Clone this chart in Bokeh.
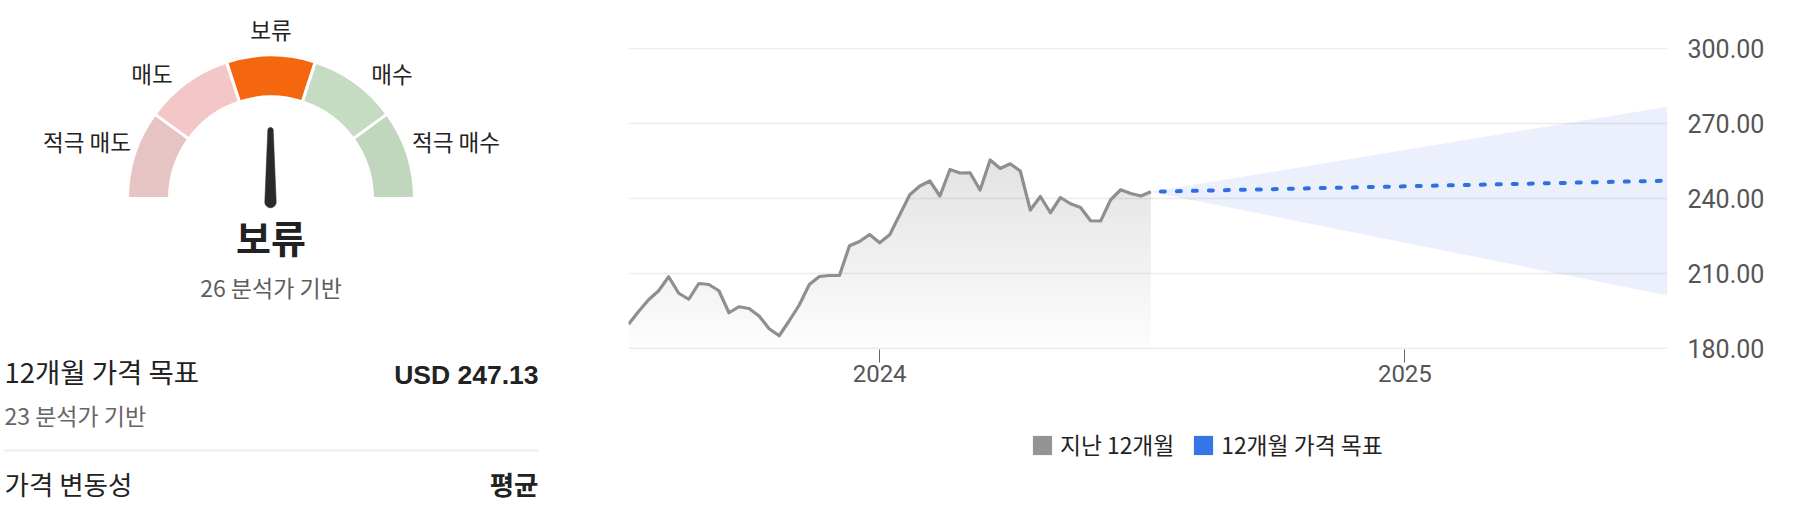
import numpy as np
import pandas as pd
from bokeh.plotting import figure
from bokeh.layouts import row, column
from bokeh.models import (Range1d, FixedTicker, NumeralTickFormatter, DatetimeTickFormatter,
                          Legend, LegendItem, ColumnDataSource)
from bokeh.core.properties import value
from bokeh.embed import file_html
from bokeh.resources import INLINE

# ---------------- data ----------------
RATING_CATEGORIES = ["적극 매도", "매도", "보류", "매수", "적극 매수"]
RATING_COLORS = ["#E7C4C4", "#F3C7C7", "#F5670F", "#C6DCC2", "#C0D6BD"]
CONSENSUS = "보류"
CONSENSUS_ANALYSTS = 26
TARGET_ANALYSTS = 23
TARGET_PRICE = 247.13
VOLATILITY = "평균"

HIST_START = "2023-07-10"
HIST_PRICES = [189.7, 194.8, 199.5, 203.1, 208.7, 202.1, 199.7, 206.0, 205.6, 203.1,
               194.3, 196.7, 196.0, 193.0, 187.9, 185.1, 191.1, 197.4, 205.6, 208.8,
               209.2, 209.2, 221.1, 222.8, 225.6, 222.3, 225.5, 233.5, 241.5, 245.0,
               247.0, 241.0, 251.6, 250.2, 250.3, 243.4, 255.4, 252.0, 253.9, 251.0,
               235.4, 240.8, 234.3, 240.4, 237.9, 236.4, 231.1, 231.0, 239.5, 243.5,
               242.0, 241.0, 242.7]
TARGET_DATE = "2025-07-03"
TARGET_HIGH = 276.7
TARGET_LOW = 201.2
Y_TICKS = [180, 210, 240, 270, 300]
X_TICK_YEARS = [2024, 2025]
LEGEND_LABELS = ["지난 12개월", "12개월 가격 목표"]
LEGEND_COLORS = ["#949494", "#3475E8"]

KR = "Noto Sans CJK KR"
PAGE_W, PAGE_H = 1808, 528

# ---------------- left panel (gauge + summary) ----------------
LW = 560
L = figure(width=LW, height=PAGE_H, x_range=Range1d(0, LW), y_range=Range1d(0, PAGE_H),
           x_axis_location=None, y_axis_location=None, output_backend="svg",
           toolbar_location=None, min_border=0, frame_align=False)
L.grid.visible = False
L.outline_line_color = None


def PY(y):
    return PAGE_H - y


def TY(y):  # text centre (small correction for CJK glyph placement)
    return PAGE_H - (y - 2.5)


CX, CY = 270.5, PY(198)
R_OUT, R_IN = 142, 103
n = len(RATING_CATEGORIES)
seg = np.pi / n
starts = [np.pi - (i + 1) * seg for i in range(n)]
ends = [np.pi - i * seg for i in range(n)]
gsrc = ColumnDataSource(dict(start=starts, end=ends, color=RATING_COLORS))

# faint halo ring
L.annular_wedge(x=CX, y=CY, inner_radius=R_IN - 3, outer_radius=R_OUT + 3,
                start_angle="start", end_angle="end", fill_color="color",
                fill_alpha=0.22, line_color=None, source=gsrc)
# main segments
L.annular_wedge(x=CX, y=CY, inner_radius=R_IN - 1.5, outer_radius=R_OUT + 1.5,
                start_angle="start", end_angle="end", fill_color="color",
                line_color="white", line_width=3, source=gsrc)

# needle
idx = RATING_CATEGORIES.index(CONSENSUS)
theta = np.pi - (idx + 0.5) * seg
px, py = CX - 0.5, CY - 3.6
rb, rt, ln = 5.7, 2.7, 72.0
tx, ty = px + ln * np.cos(theta), py + ln * np.sin(theta)
a1 = np.linspace(theta + np.pi / 2, theta + 3 * np.pi / 2, 20)
a2 = np.linspace(theta - np.pi / 2, theta + np.pi / 2, 14)
nx = list(px + rb * np.cos(a1)) + list(tx + rt * np.cos(a2))
ny = list(py + rb * np.sin(a1)) + list(ty + rt * np.sin(a2))
L.patch(nx, ny, fill_color="#2a2a2a", line_color="#2a2a2a", line_width=0.5)

# rating labels around the gauge
LAB_DX = [-184, -119, 0, 121, 185]
LAB_DY = [57.5, 125.5, 169.5, 125.5, 57.5]
L.text(x=[CX + d for d in LAB_DX], y=[CY + d for d in LAB_DY], text=RATING_CATEGORIES,
       text_font=value(KR), text_font_size="22.5px", text_color="#222222",
       text_align="center", text_baseline="middle")

L.text(x=[CX], y=[TY(238.5)], text=[CONSENSUS], text_font=value(KR),
       text_font_size="38px", text_font_style="bold", text_color="#212121",
       text_align="center", text_baseline="middle")
L.text(x=[CX], y=[TY(288.5)], text=[f"{CONSENSUS_ANALYSTS} 분석가 기반"], text_font=value(KR),
       text_font_size="23px", text_color="#5e5e5e",
       text_align="center", text_baseline="middle")

# summary rows
L.text(x=[4], y=[TY(373)], text=["12개월 가격 목표"], text_font=value(KR),
       text_font_size="27.5px", text_color="#222222", text_align="left", text_baseline="middle")
L.text(x=[538], y=[PY(374)], text=[f"USD {TARGET_PRICE:.2f}"], text_font=value("Liberation Sans"),
       text_font_size="26.5px", text_font_style="bold", text_color="#222222",
       text_align="right", text_baseline="middle")
L.text(x=[4], y=[TY(417)], text=[f"{TARGET_ANALYSTS} 분석가 기반"], text_font=value(KR),
       text_font_size="23px", text_color="#666666", text_align="left", text_baseline="middle")
L.segment(x0=[4], y0=[PY(450)], x1=[538], y1=[PY(450)], line_color="#ececec", line_width=2)
L.text(x=[4], y=[TY(485)], text=["가격 변동성"], text_font=value(KR),
       text_font_size="26.5px", text_color="#222222", text_align="left", text_baseline="middle")
L.text(x=[538], y=[TY(485)], text=[VOLATILITY], text_font=value(KR),
       text_font_size="26.5px", text_font_style="bold", text_color="#222222",
       text_align="right", text_baseline="middle")

# ---------------- right panel (price chart) ----------------
hist_dates = pd.date_range(HIST_START, periods=len(HIST_PRICES), freq="7D")
prices = np.array(HIST_PRICES)
t_end = pd.Timestamp(TARGET_DATE)

RW = PAGE_W - LW
CH = 400
# y range padded by 0.4 so the 180/300 grid lines sit inside the frame (2.5 px per unit)
P = figure(width=RW, height=CH, x_axis_type="datetime",
           x_range=Range1d(hist_dates[0], t_end), y_range=Range1d(179.6, 300.4),
           y_axis_location="right", output_backend="svg", toolbar_location=None,
           min_border_left=68, min_border_right=141, min_border_top=47, min_border_bottom=51,
           frame_align=False)
P.outline_line_color = None
P.xgrid.visible = False
P.ygrid.ticker = FixedTicker(ticks=Y_TICKS)
P.ygrid.grid_line_color = "#ebebeb"
P.ygrid.grid_line_width = 1.5

ya = P.yaxis[0]
ya.ticker = FixedTicker(ticks=Y_TICKS)
ya.formatter = NumeralTickFormatter(format="0.00")
ya.major_tick_line_color = None
ya.minor_tick_line_color = None
ya.axis_line_color = None
ya.major_label_standoff = 14
ya.major_label_text_font = "Roboto"
ya.major_label_text_font_size = "25px"
ya.major_label_text_color = "#555555"

xa = P.xaxis[0]
xa.ticker = FixedTicker(ticks=[pd.Timestamp(f"{y}-01-01").value // 10**6 for y in X_TICK_YEARS])
xa.formatter = DatetimeTickFormatter(years="%Y", months="%Y", days="%Y", hours="%Y")
xa.major_tick_out = 13
xa.major_tick_in = 0
xa.major_tick_line_color = "#666666"
xa.minor_tick_line_color = None
xa.axis_line_color = None
xa.major_label_standoff = 2
xa.major_label_text_font = "Roboto"
xa.major_label_text_font_size = "24px"
xa.major_label_text_color = "#555555"

# gradient fill under the price line: horizontal bands of rising opacity.
# The polyline is split exactly where it crosses each band edge so the
# clipped bands follow the drawn line.
levels = np.arange(180, 260, 2)
t_ms = (hist_dates.values.astype("datetime64[ms]").astype(np.int64)).astype(float)
fx, fy = [t_ms[0]], [prices[0]]
for i in range(len(prices) - 1):
    x0, y0, x1, y1 = t_ms[i], prices[i], t_ms[i + 1], prices[i + 1]
    cross = [lv for lv in levels if min(y0, y1) < lv < max(y0, y1)]
    cross.sort(reverse=(y1 < y0))
    for lv in cross:
        fx.append(x0 + (lv - y0) / (y1 - y0) * (x1 - x0))
        fy.append(lv)
    fx.append(x1)
    fy.append(y1)
fx = np.array(fx).astype("datetime64[ms]")
fy = np.array(fy)
for lo in levels[:-1]:
    hi = lo + 2
    top = np.clip(fy, lo, hi)
    if (top > lo).any():
        a = 0.02 + 0.23 * ((lo + 1) - 180) / 76.0
        P.varea(x=fx, y1=float(lo), y2=top, fill_color="#8c8c8c", fill_alpha=a)

# target cone
cone_x = [hist_dates[-1], t_end]
P.varea(x=cone_x, y1=[prices[-1], TARGET_LOW], y2=[prices[-1], TARGET_HIGH],
        fill_color="#5B86E5", fill_alpha=0.12)

P.line(hist_dates, prices, line_color="#8f8f8f", line_width=3.2, line_join="round")
P.line(cone_x, [prices[-1], TARGET_PRICE], line_color="#2F6FE6", line_width=4,
       line_dash="4 12", line_dash_offset=6, line_cap="round")

# ---------------- legend strip below the chart ----------------
LG = figure(width=RW, height=PAGE_H - CH, x_range=Range1d(0, 1), y_range=Range1d(0, 1),
            x_axis_location=None, y_axis_location=None, output_backend="svg",
            toolbar_location=None, min_border=0, frame_align=False)
LG.grid.visible = False
LG.outline_line_color = None
# legend swatches (kept outside the visible strip; only their legend samples show)
swatches = [LG.quad(left=[5], right=[6], top=[6], bottom=[5], fill_color=c, line_color=None)
            for c in LEGEND_COLORS]
legend = Legend(items=[LegendItem(label=lab, renderers=[r])
                       for lab, r in zip(LEGEND_LABELS, swatches)],
                orientation="horizontal", location=(470, 67),
                glyph_width=24, glyph_height=24, label_standoff=6, spacing=17,
                padding=0, margin=0, border_line_color=None, background_fill_alpha=0,
                label_text_font=KR, label_text_font_size="22.8px", label_text_color="#222222")
LG.add_layout(legend)

layout = row(L, column(P, LG))
open("out.html", "w").write(file_html(layout, INLINE))
